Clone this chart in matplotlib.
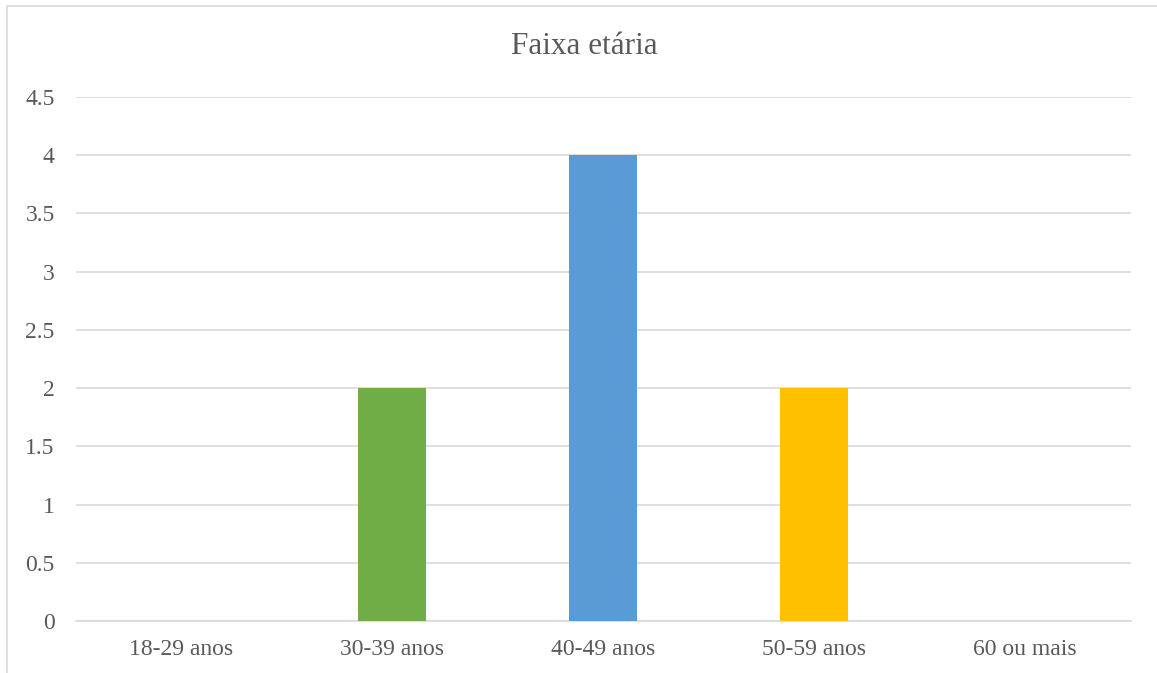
import matplotlib
matplotlib.use("Agg")
import matplotlib.pyplot as plt
from matplotlib.patches import Rectangle

categories = ["18-29 anos", "30-39 anos", "40-49 anos", "50-59 anos", "60 ou mais"]
values = [0, 2, 4, 2, 0]
bar_colors = ["#4472C4", "#70AD47", "#5B9BD5", "#FFC000", "#A5A5A5"]
y_ticks = [0, 0.5, 1, 1.5, 2, 2.5, 3, 3.5, 4, 4.5]
y_tick_labels = ["0", "0.5", "1", "1.5", "2", "2.5", "3", "3.5", "4", "4.5"]
title = "Faixa etária"

W, H = 1157, 673
plt.rcParams['font.family'] = ['Liberation Serif', 'DejaVu Serif']
fig = plt.figure(figsize=(W / 100, H / 100), dpi=100)

# chart border (cut at right/bottom)
fig.patches.append(Rectangle((7 / W, -0.1), 2.0, (H - 6) / H + 0.1, transform=fig.transFigure,
                             fill=False, edgecolor="#d9d9d9", linewidth=1.2))

left, right = 75.5, 1130.5
bottom, top = 621, 97
ax = fig.add_axes([left / W, (H - bottom) / H, (right - left) / W, (bottom - top) / H])

x = list(range(len(categories)))
ax.bar(x, values, width=0.318, color=bar_colors, zorder=3)
ax.set_xlim(-0.5, len(categories) - 0.5)
ax.set_ylim(0, 4.5)
ax.set_yticks(y_ticks)
ax.set_yticklabels(y_tick_labels)
ax.set_xticks(x)
ax.set_xticklabels(categories)
ax.grid(axis="y", color="#d9d9d9", linewidth=1.2, zorder=0)
for s in ["top", "right", "left"]:
    ax.spines[s].set_visible(False)
ax.spines["bottom"].set_color("#d9d9d9")
ax.spines["bottom"].set_linewidth(1.2)
ax.tick_params(axis="both", length=0, labelsize=17, colors="#595959")
ax.tick_params(axis="y", pad=15)
ax.tick_params(axis="x", pad=13)

fig.text(584 / W, (H - 47) / H, title, ha="center", va="center", fontsize=22.5, color="#595959")

fig.savefig("out.png", dpi=100, facecolor="white")
